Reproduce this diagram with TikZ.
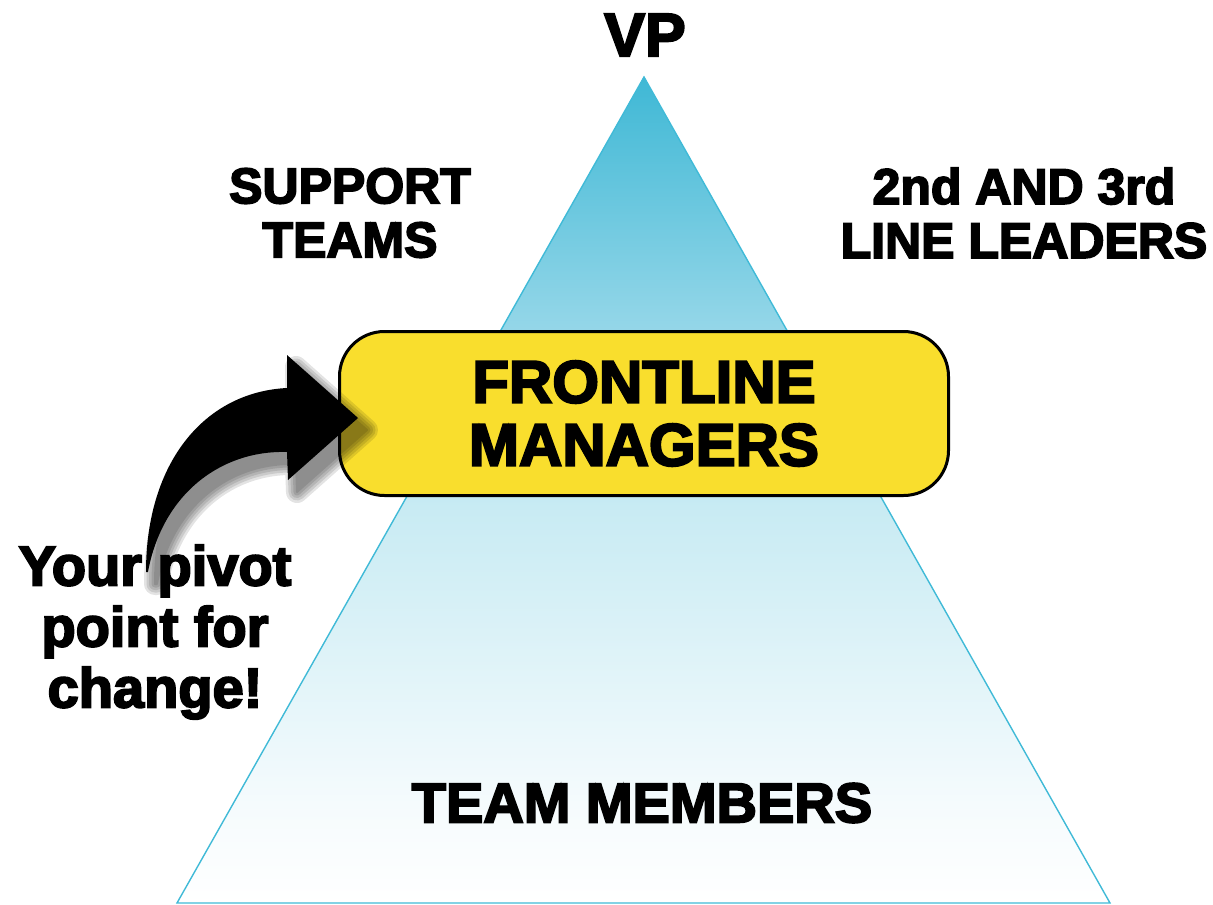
\documentclass[tikz,border=0pt]{standalone}
\usepackage{fontspec}
\setmainfont{Liberation Sans}[BoldFeatures={FakeBold=3.5}]

\definecolor{triedge}{RGB}{64,186,215}
\definecolor{tlA}{RGB}{63,184,213}
\definecolor{tlB}{RGB}{147,214,232}
\definecolor{tlC}{RGB}{200,235,243}
\definecolor{tlD}{RGB}{245,251,253}
\definecolor{fmyellow}{RGB}{249,222,45}

% pyramid fill: deep teal at the apex fading to white at the base
\pgfdeclareverticalshading{pyramidfade}{100bp}{%
  color(0bp)=(white); color(25bp)=(white); color(31bp)=(tlD);
  color(49bp)=(tlC); color(60bp)=(tlB); color(75bp)=(tlA); color(100bp)=(tlA)}

\begin{document}
\begin{tikzpicture}[x=1pt,y=-1pt,
  lbl/.style={inner sep=0pt, align=center, text=black},
  fmbox/.style={draw=black, line width=3pt, fill=fmyellow,
    rounded corners=45pt, minimum width=609pt, minimum height=164pt,
    inner sep=0pt, align=center,
    font=\fontsize{60}{63}\selectfont\bfseries},
]
\useasboundingbox (0,0) rectangle (1213,905);

% pyramid
\coordinate (apex) at (644,77);
\coordinate (baseL) at (177,903);
\coordinate (baseR) at (1110,903);
\path[shade, shading=pyramidfade, draw=triedge, line width=1.4pt]
  (apex) -- (baseR) -- (baseL) -- cycle;

% frontline managers band
\node[fmbox] (fm) at (644,413.5) {FRONTLINE\\MANAGERS};

% soft shadow of the curved arrow: stacked translucent layers
\begin{scope}[shift={(9,12)}]
  \foreach \w in {22,17,12,7,2}{
    \begin{scope}[transparency group, opacity=0.11]
    \filldraw[black, line width=\w pt, line join=round]
      (146,572) .. controls (146,462) and (205,392) .. (287,388)
      -- (287,355) -- (358,418) -- (288,480) -- (287,452)
      .. controls (220,450) and (162,495) .. (148,572) -- cycle;
    \end{scope}
  }
\end{scope}

% curved arrow pointing at the band
\fill[black]
  (146,572) .. controls (146,462) and (205,392) .. (287,388)
  -- (287,355) -- (358,418) -- (288,480) -- (287,452)
  .. controls (220,450) and (162,495) .. (148,572) -- cycle;

% labels
\node[lbl, font=\fontsize{61}{61}\selectfont\bfseries] (vp) at (645,35) {VP};
\node[lbl, font=\fontsize{50}{54}\selectfont\bfseries] (support) at (350,213)
  {SUPPORT\\TEAMS};
\node[lbl, font=\fontsize{50}{54}\selectfont\bfseries] (leaders) at (1024,213)
  {2nd AND 3rd\\LINE LEADERS};
\node[lbl, font=\fontsize{56}{56}\selectfont\bfseries] (members) at (642,803)
  {TEAM MEMBERS};
\node[lbl, font=\fontsize{56}{61}\selectfont\bfseries] (pivot) at (155,632)
  {Your pivot\\point for\\change!};
\end{tikzpicture}
\end{document}
